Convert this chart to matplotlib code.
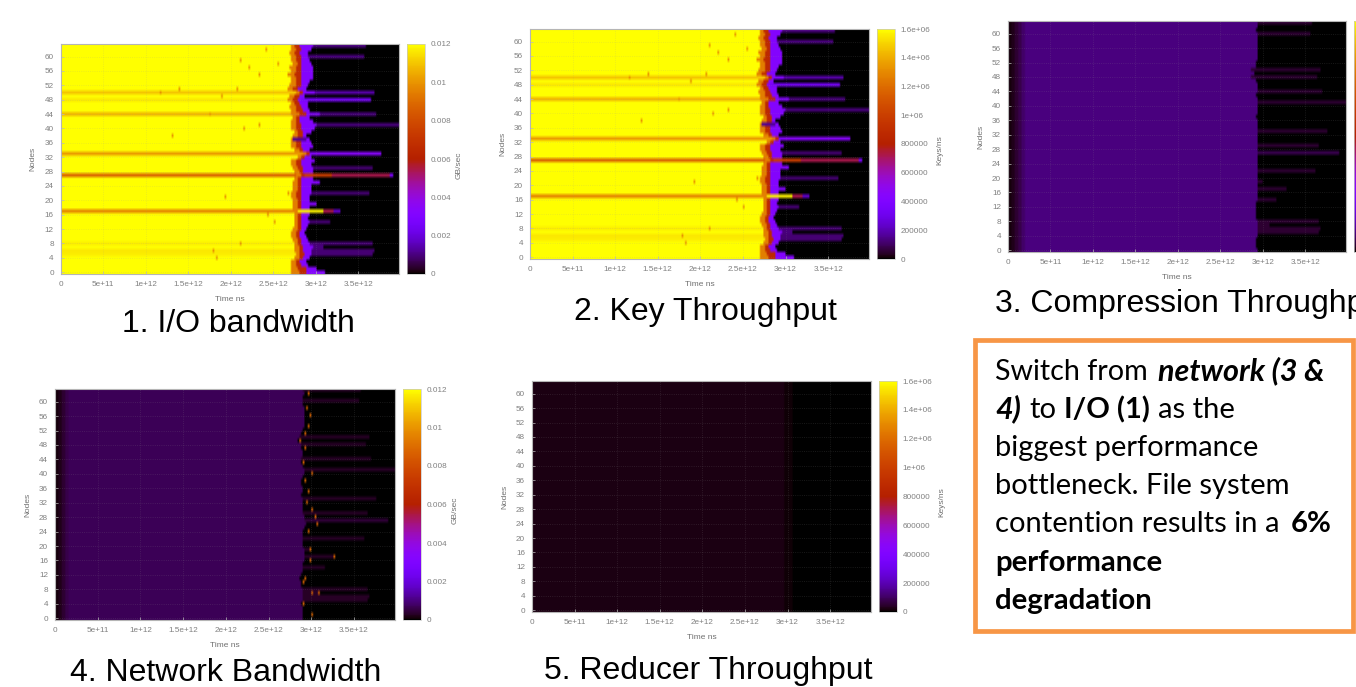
# Five node/time heatmaps from a slide, gnuplot style, plus the note box

import numpy as np
import matplotlib
matplotlib.use("Agg")
import matplotlib.pyplot as plt
from matplotlib.colors import ListedColormap
from matplotlib.patches import Rectangle

W, H = 1356, 687

# time in units of 1e12 ns, bandwidth in GB/sec, index of each list = node
time_bins = np.arange(0, 3.98, 0.02)
nodes = np.arange(64)

yellow_end = [2.69, 2.69, 2.70, 2.70, 2.74, 2.75, 2.74, 2.74, 2.73, 2.72, 2.70, 2.70, 2.72, 2.74, 2.74, 2.74,
              2.73, 2.76, 2.72, 2.72, 2.72, 2.70, 2.70, 2.72, 2.72, 2.72, 2.74, 2.76, 2.74, 2.72, 2.70, 2.69,
              2.77, 2.83, 2.74, 2.70, 2.70, 2.70, 2.72, 2.73, 2.70, 2.70, 2.70, 2.72, 2.70, 2.69, 2.68, 2.69,
              2.66, 2.68, 2.75, 2.66, 2.68, 2.70, 2.69, 2.66, 2.69, 2.68, 2.72, 2.70, 2.69, 2.68, 2.70, 2.69]
red_end = [2.88, 2.87, 2.82, 2.79, 2.83, 2.85, 2.84, 2.83, 2.82, 2.81, 2.79, 2.79, 2.81, 2.82, 2.82, 2.82,
           2.82, 2.84, 2.81, 2.81, 2.82, 2.82, 2.81, 2.82, 2.81, 2.81, 2.82, 2.85, 2.83, 2.83, 2.81, 2.81,
           2.85, 2.91, 2.83, 2.81, 2.82, 2.80, 2.83, 2.83, 2.82, 2.81, 2.79, 2.79, 2.87, 2.83, 2.81, 2.79,
           2.78, 2.79, 2.83, 2.77, 2.81, 2.81, 2.82, 2.81, 2.81, 2.82, 2.82, 2.81, 2.81, 2.79, 2.81, 2.79]
purple_end = [3.09, 2.99, 2.89, 2.87, 2.91, 2.93, 2.94, 2.95, 2.91, 2.89, 2.87, 2.86, 2.87, 2.90, 2.91, 2.90,
              2.91, 2.95, 2.91, 2.99, 2.91, 2.91, 2.93, 2.93, 2.93, 3.03, 2.95, 2.95, 2.95, 2.95, 2.93, 2.97,
              2.93, 2.97, 2.92, 2.95, 2.94, 2.91, 2.87, 2.93, 2.97, 2.99, 2.95, 2.91, 3.03, 2.91, 2.90, 2.89,
              2.81, 2.85, 2.97, 2.87, 2.90, 2.91, 2.95, 2.96, 2.96, 2.95, 2.93, 2.91, 2.89, 2.89, 2.93, 2.95]
compress_end = [2.93, 2.92, 2.92, 2.92, 2.93, 2.93, 2.94, 2.93, 2.93, 2.92, 2.91, 2.91, 2.92, 2.92, 2.93, 2.93,
                2.93, 2.93, 2.93, 2.93, 2.93, 2.93, 2.93, 2.93, 2.93, 2.94, 2.93, 2.94, 2.93, 2.93, 2.93, 2.93,
                2.93, 2.93, 2.93, 2.93, 2.93, 2.92, 2.93, 2.93, 2.93, 2.94, 2.93, 2.92, 2.93, 2.93, 2.93, 2.92,
                2.86, 2.90, 2.85, 2.92, 2.92, 2.93, 2.93, 2.94, 2.94, 2.94, 2.93, 2.93, 2.93, 2.92, 2.93, 2.93]
network_end = [2.90, 2.90, 2.90, 2.89, 2.88, 2.89, 2.90, 2.90, 2.89, 2.88, 2.87, 2.86, 2.88, 2.89, 2.90, 2.90,
               2.91, 2.91, 2.91, 2.91, 2.90, 2.90, 2.90, 2.90, 2.90, 2.91, 2.93, 2.92, 2.91, 2.90, 2.90, 2.90,
               2.89, 2.89, 2.88, 2.90, 2.89, 2.88, 2.87, 2.90, 2.92, 2.91, 2.89, 2.88, 2.88, 2.89, 2.89, 2.88,
               2.88, 2.83, 2.85, 2.88, 2.89, 2.91, 2.91, 2.92, 2.92, 2.91, 2.91, 2.90, 2.90, 2.90, 2.91, 2.90]

stripe_nodes = [5, 6, 8, 17, 27, 33, 44, 48, 50]
stripe_levels = [0.0117, 0.0116, 0.0117, 0.0096, 0.0086, 0.0101, 0.0106, 0.0116, 0.0110]

tail_nodes = [5, 6, 7, 8, 14, 19, 22, 29, 33, 41, 44, 48, 50, 60, 63]
tail_ends = [3.66, 3.68, 3.07, 3.66, 3.16, 3.00, 3.61, 3.66, 3.75, 3.97, 3.70, 3.64, 3.67, 3.56, 3.58]
tail_levels = [0.0009, 0.0009, 0.0010, 0.0009, 0.0009, 0.0010, 0.0009, 0.0009, 0.0034, 0.0010, 0.0010, 0.0026,
               0.0014, 0.0010, 0.0010]

# long runs that do not fit the stop/tail pattern: node, start, end, level
extra_nodes = [17, 17, 17, 27, 27, 27, 37]
extra_starts = [2.78, 3.07, 3.19, 2.85, 3.17, 3.85, 2.72]
extra_ends = [3.07, 3.19, 3.27, 3.17, 3.85, 3.89, 2.88]
extra_levels = [0.0118, 0.0054, 0.0018, 0.0075, 0.0054, 0.0030, 0.0012]

speck_nodes = [57, 59, 55, 44, 4, 6, 8, 16, 14, 49, 58, 62, 38, 21, 22, 41, 40, 51, 51, 50]
speck_times = [2.20, 2.09, 2.32, 1.74, 1.81, 1.77, 2.09, 2.42, 2.49, 1.87, 2.54, 2.40, 1.29, 1.91, 2.65, 2.32,
               2.13, 2.05, 1.38, 1.15]

net_speck_nodes = [62, 58, 56, 53, 51, 49, 47, 43, 40, 38, 35, 32, 30, 28, 26, 24, 19, 16, 17, 11, 10, 7, 7, 4, 1]
net_speck_times = [2.955, 2.935, 2.965, 2.95, 2.92, 2.85, 2.91, 2.90, 2.985, 2.91, 2.955, 2.93, 2.985, 3.025,
                   3.05, 2.95, 2.965, 2.975, 3.26, 2.91, 2.90, 2.985, 3.065, 2.90, 3.0]

ramp_ends = [0.04, 0.08, 0.12, 0.16, 0.20]
ramp_levels = [0.0001, 0.0002, 0.0004, 0.0006, 0.0008]

compress_level = 0.00102
compress_tail = 0.00042
network_level = 0.00066
network_tail = 0.00030

reducer_ends = [0.12, 1.20, 2.00, 2.95, 3.05, 3.98]
reducer_levels = [0.00015, 0.00016, 0.00017, 0.00017, 0.00008, 0.00001]

time_ticks = [0, 0.5, 1, 1.5, 2, 2.5, 3, 3.5]
time_labels = ["0", "5e+11", "1e+12", "1.5e+12", "2e+12", "2.5e+12", "3e+12", "3.5e+12"]
node_ticks = list(range(0, 64, 4))
gb_ticks = [0, 0.002, 0.004, 0.006, 0.008, 0.01, 0.012]
gb_labels = ["0", "0.002", "0.004", "0.006", "0.008", "0.01", "0.012"]
key_ticks = [0, 200000, 400000, 600000, 800000, 1000000, 1200000, 1400000, 1600000]
key_labels = ["0", "200000", "400000", "600000", "800000", "1e+06", "1.2e+06", "1.4e+06", "1.6e+06"]
keys_per_gb = 1600000 / 0.012

# gnuplot default pm3d palette (rgbformulae 7,5,15)
x = np.linspace(0, 1, 256)
pm3d = ListedColormap(np.c_[np.sqrt(x), x**3, np.clip(np.sin(2 * np.pi * x), 0, 1)])


def set_run(grid, n, start, end, level):
    grid[n, (time_bins >= start) & (time_bins < end)] = level


def io_grid():
    grid = np.zeros((len(nodes), len(time_bins)))
    for n in nodes:
        mid = (yellow_end[n] + red_end[n]) / 2
        set_run(grid, n, 0, yellow_end[n], 0.012)
        set_run(grid, n, yellow_end[n], mid, 0.0095)
        set_run(grid, n, mid, red_end[n], 0.0066)
        set_run(grid, n, red_end[n], purple_end[n], 0.0032)
    for n, level in zip(stripe_nodes, stripe_levels):
        set_run(grid, n, 0, yellow_end[n], level)
    for n, t in zip(speck_nodes, speck_times):
        set_run(grid, n, t, t + 0.02, 0.0098)
    for n, end, level in zip(tail_nodes, tail_ends, tail_levels):
        set_run(grid, n, purple_end[n], end, level)
    for n, a, b, level in zip(extra_nodes, extra_starts, extra_ends, extra_levels):
        set_run(grid, n, a, b, level)
    return grid


def flat_grid(ends, level, tail):
    grid = np.zeros((len(nodes), len(time_bins)))
    for n in nodes:
        set_run(grid, n, 0, ends[n], level)
        start = 0
        for end, ramp in zip(ramp_ends, ramp_levels):
            set_run(grid, n, start, end, min(ramp, level))
            start = end
    for n, end in zip(tail_nodes, tail_ends):
        set_run(grid, n, ends[n], end, tail)
    set_run(grid, 27, ends[27], 3.89, tail * 1.5)
    set_run(grid, 17, ends[17], 3.27, tail)
    return grid


def reducer_grid():
    grid = np.zeros((len(nodes), len(time_bins)))
    for n in nodes:
        start = 0
        for end, level in zip(reducer_ends, reducer_levels):
            set_run(grid, n, start, end, level)
            start = end
    return grid


def px_axes(left, top, right, bottom):
    return fig.add_axes([left / W, 1 - bottom / H, (right - left) / W, (bottom - top) / H])


def panel(box, cbar_x, grid, vmax, ticks, labels, unit, unit_gap=52):
    left, top, right, bottom = box
    ax = px_axes(left, top, right, bottom)
    im = ax.imshow(grid, origin="lower", extent=(0, 3.98, -0.5, 63.5), aspect="auto", cmap=pm3d,
                   vmin=0, vmax=vmax, interpolation="bilinear", interpolation_stage="rgba")
    ax.set_xticks(time_ticks, time_labels)
    ax.set_yticks(node_ticks)
    ax.tick_params(labelsize=5.9, labelcolor="#808080", color="#bbbbbb", length=2, width=0.5, direction="in", pad=5)
    ax.grid(color="#999999", alpha=0.22, ls=":", lw=0.6)
    ax.set_xlabel("Time ns", fontsize=6, color="#707070")
    ax.set_ylabel("Nodes", fontsize=6, color="#707070")
    ax.xaxis.set_label_coords(0.5, -22 / (bottom - top))
    ax.yaxis.set_label_coords(-24 / (right - left), 0.5)
    for s in ax.spines.values():
        s.set_color("#b5b5b5")
        s.set_linewidth(0.8)

    cax = px_axes(cbar_x, top, cbar_x + 18, bottom)
    cb = fig.colorbar(im, cax=cax)
    cb.outline.set_edgecolor("#c8c8c8")
    cb.outline.set_linewidth(0.5)
    if ticks:
        cb.set_ticks(ticks, labels=labels)
        cax.tick_params(labelsize=5.9, labelcolor="#808080", length=0, pad=4)
        fig.text((cbar_x + unit_gap) / W, 1 - (top + bottom + 12) / 2 / H, unit, rotation=90, fontsize=6,
                 color="#707070", ha="center", va="center")
    else:
        cb.set_ticks([])


plt.rcParams["font.family"] = ["Liberation Sans", "DejaVu Sans"]
fig = plt.figure(figsize=(W / 100, H / 100), dpi=100, facecolor="white")

io = io_grid()
network = flat_grid(network_end, network_level, network_tail)
# orange specks along the stop line of the network panel
for n, t in zip(net_speck_nodes, net_speck_times):
    set_run(network, n, t, t + 0.02, 0.0088)

panel((60.7, 44, 399, 274), 407, io, 0.012, gb_ticks, gb_labels, "GB/sec")
panel((530, 29, 869, 259), 877, io * keys_per_gb, 1600000, key_ticks, key_labels, "Keys/ns", 63)
panel((1008, 21, 1346, 252), 1354, flat_grid(compress_end, compress_level, compress_tail), 0.012, None, None, "")
panel((55, 389, 395, 620), 403, network, 0.012, gb_ticks, gb_labels, "GB/sec")
panel((532, 381, 871, 612), 879, reducer_grid() * keys_per_gb, 1600000, key_ticks, key_labels, "Keys/ns", 63)

captions = ["1. I/O bandwidth", "2. Key Throughput", "3. Compression Throughput", "4. Network Bandwidth",
            "5. Reducer Throughput"]
caption_x = [122, 574, 995, 70, 544]
caption_y = [332, 320, 312, 681, 679]
for text, cx, cy in zip(captions, caption_x, caption_y):
    fig.text(cx / W, 1 - cy / H, text, fontsize=23, color="black", ha="left", va="baseline")

# note box
fig.add_artist(Rectangle((975.3 / W, 1 - 631 / H), 377.4 / W, 290.7 / H, transform=fig.transFigure,
                         facecolor="white", edgecolor="#F79646", linewidth=3.4))

note_runs = [("Switch from", 995, 380, "normal", "normal", 20.6),
             ("network (3 &", 1158, 380, "bold", "italic", 22),
             ("4)", 995, 418, "bold", "italic", 22),
             ("to", 1029, 418, "normal", "normal", 21),
             ("I/O (1)", 1064, 418, "bold", "normal", 21),
             ("as the", 1158, 418, "normal", "normal", 21),
             ("biggest performance", 995, 456, "normal", "normal", 21),
             ("bottleneck. File system", 995, 494, "normal", "normal", 21),
             ("contention results in a", 995, 532, "normal", "normal", 21),
             ("6%", 1291, 532, "bold", "normal", 21),
             ("performance", 995, 571, "bold", "normal", 21.2),
             ("degradation", 995, 609, "bold", "normal", 21.2)]
for text, nx, ny, weight, style, size in note_runs:
    fig.text(nx / W, 1 - ny / H, text, fontsize=size, family=["Lato", "DejaVu Sans"], weight=weight, style=style,
             color="black", ha="left", va="baseline")

fig.savefig("out.png", dpi=100, facecolor="white")
